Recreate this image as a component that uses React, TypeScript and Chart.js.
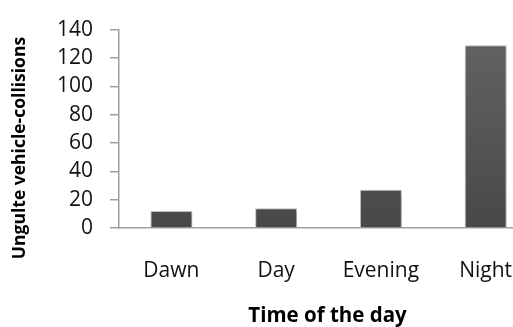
import React, { useEffect, useRef } from "react";
import { Chart, registerables } from "chart.js";

Chart.register(...registerables);

const categories = ["Dawn", "Day", "Evening", "Night"];
const collisions = [12, 14, 27, 129];
const yTicks = [0, 20, 40, 60, 80, 100, 120, 140];
const yTitle = "Ungulte vehicle-collisions";
const xTitle = "Time of the day";

const FONT = "'Open Sans', Lato, sans-serif";

const titlesPlugin = {
  id: "titlesPlugin",
  afterDraw(chart: any) {
    const ctx = chart.ctx;
    ctx.save();
    ctx.fillStyle = "#000";
    ctx.font = `bold 17.5px ${FONT}`;
    ctx.textAlign = "center";
    ctx.textBaseline = "alphabetic";
    ctx.translate(25, 148);
    ctx.rotate(-Math.PI / 2);
    ctx.fillText(yTitle, 0, 0);
    ctx.restore();

    ctx.save();
    ctx.fillStyle = "#000";
    ctx.font = `bold 20.5px ${FONT}`;
    ctx.textAlign = "center";
    ctx.textBaseline = "alphabetic";
    ctx.fillText(xTitle, 327.5, 322);
    ctx.restore();
  },
};

const shadowPlugin = {
  id: "shadowPlugin",
  beforeDatasetsDraw(chart: any) {
    const ctx = chart.ctx;
    ctx.save();
    ctx.shadowColor = "rgba(0,0,0,0.25)";
    ctx.shadowBlur = 4;
    ctx.shadowOffsetX = 2;
    ctx.shadowOffsetY = 2;
  },
  afterDatasetsDraw(chart: any) {
    chart.ctx.restore();
  },
};

export default function App() {
  const ref = useRef<HTMLCanvasElement>(null);

  useEffect(() => {
    if (!ref.current) return;
    const chart = new Chart(ref.current, {
      type: "bar",
      data: {
        labels: categories,
        datasets: [
          {
            data: collisions,
            backgroundColor: (c: any) => {
              const area = c.chart.chartArea;
              if (!area) return "#555";
              const g = c.chart.ctx.createLinearGradient(0, area.top, 0, area.bottom);
              g.addColorStop(0, "#646464");
              g.addColorStop(1, "#484848");
              return g;
            },
            borderColor: "rgba(190,190,190,0.9)",
            borderWidth: 1,
            categoryPercentage: 1,
            barPercentage: 0.4,
          },
        ],
      },
      options: {
        responsive: false,
        animation: false,
        layout: { padding: { left: 0, right: 22, top: 23, bottom: 0 } },
        plugins: { legend: { display: false }, tooltip: { enabled: false } },
        scales: {
          x: {
            afterFit: (s: any) => {
              s.height = 99;
            },
            grid: { display: false, drawTicks: false },
            border: { display: true, color: "#a0a0a0", width: 1.5 },
            ticks: {
              color: "#111",
              font: { family: FONT, size: 21 },
              padding: 30,
              maxRotation: 0,
            },
          },
          y: {
            min: 0,
            max: 140,
            afterFit: (s: any) => {
              s.width = 119;
            },
            afterBuildTicks: (s: any) => {
              s.ticks = yTicks.map((v) => ({ value: v }));
            },
            grid: {
              display: true,
              drawOnChartArea: false,
              drawTicks: true,
              tickLength: 9,
              color: "#a0a0a0",
              lineWidth: 1.5,
            },
            border: { display: true, color: "#a0a0a0", width: 1.5 },
            ticks: {
              color: "#111",
              font: { family: FONT, size: 21 },
              padding: 17,
            },
          },
        },
      },
      plugins: [shadowPlugin, titlesPlugin],
    });
    return () => chart.destroy();
  }, []);

  return (
    <div
      style={{
        position: "fixed",
        left: 0,
        top: 0,
        width: 513,
        height: 327,
        overflow: "hidden",
        background: "#fff",
      }}
    >
      <canvas ref={ref} width={560} height={327} style={{ width: 560, height: 327, display: "block" }} />
    </div>
  );
}
